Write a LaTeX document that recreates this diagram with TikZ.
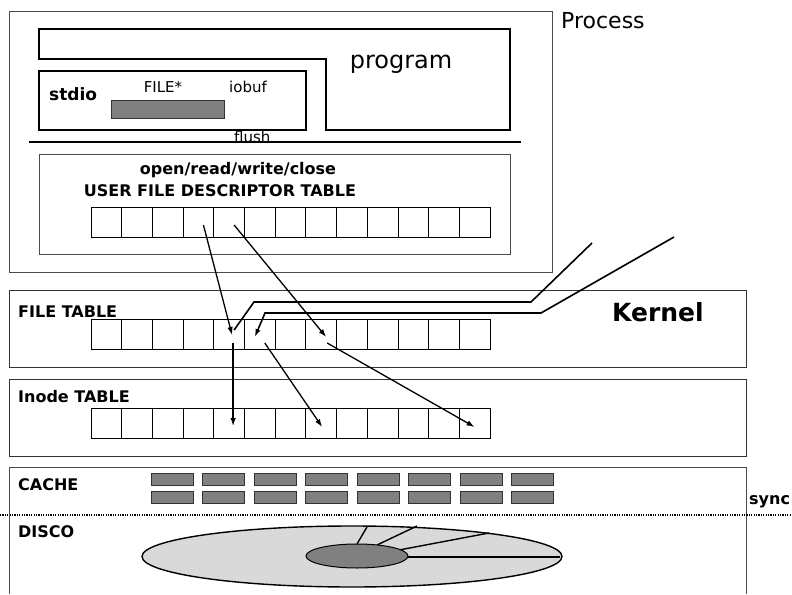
\documentclass[tikz,border=0pt]{standalone}
\usepackage{fontspec}
\setmainfont{DejaVu Sans}
\usetikzlibrary{arrows.meta}
\tikzset{
    cell/.style={draw, line width=0.8pt, minimum width=30.69pt, minimum height=30pt, inner sep=0pt, outer sep=0pt},
    block/.style={draw=black!80, fill=gray, line width=0.8pt, minimum width=42pt, minimum height=12pt, inner sep=0pt},
    lbl/.style={anchor=west, inner sep=0pt, font=\bfseries\fontsize{16}{16}\selectfont},
    ptr/.style={-{Latex[length=8pt,width=5.5pt]}, line width=1.3pt},
    wire/.style={line width=1.6pt},
}
\begin{document}
\begin{tikzpicture}[x=1pt,y=-1pt]
    \useasboundingbox (0,0) rectangle (792,594);

    % Process
    \draw[black!70, line width=0.8pt] (9,11) rectangle (552,272);
    \node[anchor=west, inner sep=0pt, font=\fontsize{22}{22}\selectfont] (proc) at (561,21) {Process};

    % program
    \draw[line width=1.6pt] (39,29) -- (510,29) -- (510,130) -- (326,130) -- (326,59) -- (39,59) -- cycle;
    \node[font=\fontsize{24}{24}\selectfont] (prog) at (401,64) {program};

    % stdio + FILE*
    \draw[line width=1.6pt] (39,71) rectangle (306,130);
    \node[anchor=west, inner sep=0pt, font=\bfseries\fontsize{17}{17}\selectfont] (stdio) at (49,94) {stdio};
    \filldraw[fill=gray, draw=black!80, line width=0.8pt] (111,100) rectangle (224,118);
    \node[font=\fontsize{15}{15}\selectfont] (file) at (163,87) {FILE*};
    \node[font=\fontsize{15}{15}\selectfont] (iobuf) at (248,87) {iobuf};
    \node[anchor=base west, inner sep=0pt, font=\fontsize{15}{15}\selectfont] (flush) at (234,142) {flush};
    \draw[line width=1.6pt] (29,142) -- (521,142);

    % USER FILE DESCRIPTOR TABLE
    \draw[black!70, line width=0.8pt] (39,154) rectangle (510,254);
    \node[font=\bfseries\fontsize{16}{16}\selectfont] (calls) at (238,170) {open/read/write/close};
    \node[font=\bfseries\fontsize{16}{16}\selectfont] (ufdt) at (220,191) {USER FILE DESCRIPTOR TABLE};

    % FILE TABLE / Inode TABLE
    \draw[black!80, line width=0.9pt] (9,290) rectangle (746,367);
    \node[lbl] (ft) at (18,312) {FILE TABLE};
    \node[anchor=west, inner sep=0pt, font=\bfseries\fontsize{25}{25}\selectfont] (kern) at (612,312) {Kernel};
    \draw[black!80, line width=0.9pt] (9,379) rectangle (746,456);
    \node[lbl] (it) at (18,397) {Inode TABLE};

    % celle delle tre tabelle
    \foreach \i in {1,...,13} {
        \node[cell] (u\i) at ({91+30.69*(\i-0.5)},222) {};
        \node[cell] (f\i) at ({91+30.69*(\i-0.5)},334) {};
        \node[cell] (n\i) at ({91+30.69*(\i-0.5)},423) {};
    }

    % linee dagli altri processi
    \coordinate (k1) at (592,243);
    \coordinate (k2) at (674,237);
    \draw[wire] (k1) -- (531,302) -- (254,302) -- ([xshift=5pt,yshift=4pt]f5.center);
    \draw[wire, -{Latex[length=8pt,width=5.5pt]}] (k2) -- (541,313) -- (265,313) -- ([xshift=-5pt,yshift=-3pt]f6.center);

    % puntatori
    \draw[ptr] ([xshift=5pt,yshift=-3pt]u4.center) -- ([xshift=3pt,yshift=-1pt]f5.center);
    \draw[ptr] ([xshift=5pt,yshift=-3pt]u5.center) -- ([xshift=5pt,yshift=-3pt]f8.center);
    \draw[ptr] ([xshift=4pt,yshift=-9pt]f5.center) -- ([xshift=4pt,yshift=-3pt]n5.center);
    \draw[ptr] ([xshift=5pt,yshift=-9pt]f6.center) -- ([xshift=1pt,yshift=-4pt]n8.center);
    \draw[ptr] ([xshift=6pt,yshift=-9pt]f8.center) -- ([yshift=-4pt]n13.center);

    % CACHE / DISCO
    \draw[black!70, line width=0.8pt] (9,594) -- (9,467) -- (746,467) -- (746,594);
    \node[lbl] (cache) at (18,485) {CACHE};
    \foreach \j in {0,...,7} {
        \node[block] (ca\j) at ({172+51.5*\j},479) {};
        \node[block] (cb\j) at ({172+51.5*\j},497) {};
    }
    \draw[line width=1.3pt, dash pattern=on 1.2pt off 1.2pt] (0,515) -- (792,515);
    \node[anchor=west, inner sep=0pt, font=\bfseries\fontsize{16}{16}\selectfont] (sync) at (749,502) {sync};
    \node[lbl] (disco) at (18,532) {DISCO};

    % disco
    \draw[line width=1.4pt, fill=gray!30] (352,556.5) ellipse [x radius=210pt, y radius=30.5pt];
    \draw[line width=1.4pt] (357,544) -- (367,527);
    \draw[line width=1.4pt] (377,545) -- (417,526);
    \draw[line width=1.4pt] (399,550) -- (489,533);
    \draw[line width=1.4pt] (407,557) -- (560,557);
    \draw[line width=1pt, fill=gray] (357,556) ellipse [x radius=51pt, y radius=12pt];

\end{tikzpicture}
\end{document}
